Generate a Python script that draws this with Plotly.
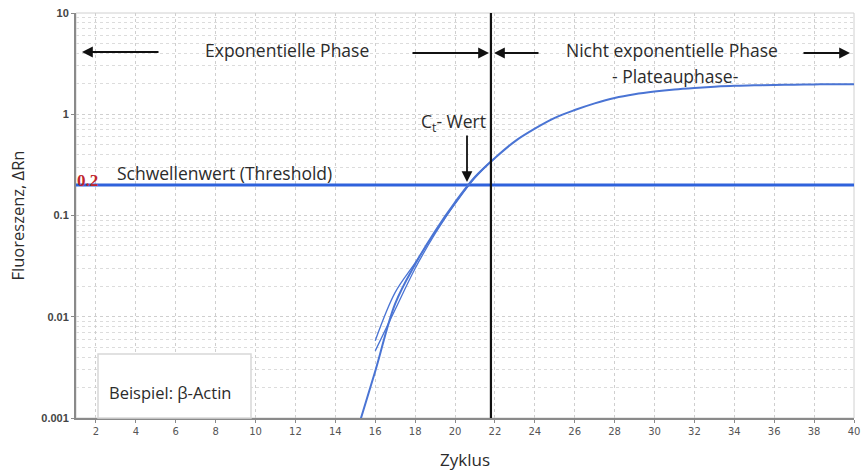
import plotly.graph_objects as go

# ---- data ----
cycles = list(range(15, 41))
main_curve = [0.00065, 0.0029, 0.0135, 0.033, 0.07, 0.135, 0.24, 0.37, 0.54, 0.72,
              0.92, 1.10, 1.28, 1.45, 1.58, 1.68, 1.76, 1.82, 1.87, 1.91,
              1.93, 1.95, 1.96, 1.97, 1.98, 1.98]
branch_cycles = [16, 17, 18, 19, 20, 21, 22]
branch_a = [0.0058, 0.0174, 0.034, 0.068, 0.13, 0.235, 0.37]
branch_b = [0.0046, 0.0118, 0.030, 0.066, 0.132, 0.24, 0.37]
threshold = 0.2
threshold_x = [1, 40]
phase_boundary = 21.8
y_ticks = [0.001, 0.01, 0.1, 1, 10]
y_ticklabels = ["0.001", "0.01", "0.1", "1", "10"]
x_ticks = list(range(2, 41, 2))

W, H = 861, 474
L, R, T, B = 76, 7, 13, 56
PW, PH = W - L - R, H - T - B

def px(x):
    return (x - L) / PW

def py(y):
    return 1 - (y - T) / PH

FONT = "Open Sans"
TXT = "#2b2b2b"
CURVE = "#4a74d4"

fig = go.Figure()
fig.add_trace(go.Scatter(x=threshold_x, y=[threshold, threshold], mode="lines",
                         line=dict(color="#2f62dc", width=3.2), hoverinfo="skip"))
fig.add_trace(go.Scatter(x=branch_cycles, y=branch_a, mode="lines",
                         line=dict(color=CURVE, width=1.3, shape="spline"), hoverinfo="skip"))
fig.add_trace(go.Scatter(x=branch_cycles, y=branch_b, mode="lines",
                         line=dict(color=CURVE, width=1.3, shape="spline"), hoverinfo="skip"))
fig.add_trace(go.Scatter(x=cycles, y=main_curve, mode="lines",
                         line=dict(color=CURVE, width=2, shape="spline"), hoverinfo="skip"))
fig.add_trace(go.Scatter(x=[phase_boundary, phase_boundary], y=[0.001, 10], mode="lines",
                         line=dict(color="#111111", width=2.2), hoverinfo="skip", cliponaxis=False))

annos = []
def arrow(x_head, y_head, x_tail, y_tail):
    annos.append(dict(x=px(x_head), y=py(y_head), xref="paper", yref="paper",
                      ax=x_tail - x_head, ay=y_tail - y_head, axref="pixel", ayref="pixel",
                      text="", showarrow=True, arrowhead=2, arrowsize=1.2, arrowwidth=1.8,
                      arrowcolor="#111111"))

def label(x, y, text, size=17.5, color=TXT, family=FONT, xanchor="center"):
    annos.append(dict(x=px(x), y=py(y), xref="paper", yref="paper", text=text,
                      showarrow=False, font=dict(family=family, size=size, color=color),
                      xanchor=xanchor, yanchor="middle"))

arrow(82, 52, 160, 52)
arrow(489, 53, 411, 53)
arrow(494, 53, 540, 53)
arrow(850, 53, 802, 53)
arrow(467, 182, 467, 134)
label(287, 50, "Exponentielle Phase")
label(672, 50, "Nicht exponentielle Phase")
label(675, 76, "- Plateauphase-")
label(453, 122, "C<sub>t</sub>- Wert")
label(224, 173, "Schwellenwert (Threshold)")
label(87, 180, "0.2", size=17, color="#c0262d", family="Liberation Serif")
label(170, 392, "Beispiel: β-Actin", size=16.5)
annos[-2]["font"]["weight"] = "bold"

shapes = [
    dict(type="rect", xref="paper", yref="paper", x0=px(98), x1=px(251), y0=py(418), y1=py(354),
         line=dict(color="#d8d8d8", width=1.5), fillcolor="white", layer="above"),
    dict(type="rect", xref="paper", yref="paper", x0=0, x1=1, y0=0, y1=1,
         line=dict(color="#d0d0d0", width=1), layer="below"),
]
fig.update_layout(shapes=shapes, annotations=annos)

fig.update_layout(
    width=W, height=H, margin=dict(l=L, r=R, t=T, b=B, autoexpand=False),
    paper_bgcolor="white", plot_bgcolor="white", showlegend=False,
    font=dict(family=FONT, color=TXT),
    xaxis=dict(range=[1, 40], tickvals=x_ticks, showgrid=True, gridcolor="#cfcfcf",
               griddash="dot", gridwidth=1, zeroline=False, showline=True,
               linecolor="#8a8a8a", linewidth=2, ticks="outside", ticklen=3,
               tickcolor="#8a8a8a", tickfont=dict(size=10, color="#555", family="DejaVu Sans"),
               ticklabeloverflow="allow", automargin=False,
               title=dict(text="Zyklus", font=dict(size=17, color=TXT), standoff=18)),
    yaxis=dict(type="log", range=[-3, 1], tickvals=y_ticks, ticktext=y_ticklabels,
               showgrid=True, gridcolor="#cfcfcf", griddash="dot", gridwidth=1,
               zeroline=False, showline=True, linecolor="#8a8a8a", linewidth=2,
               ticks="outside", ticklen=3, tickcolor="#8a8a8a", automargin=False,
               tickfont=dict(size=11, color="#444", family="Liberation Sans", weight="bold"),
               minor=dict(dtick="D1", showgrid=True, gridcolor="#dcdcdc", griddash="dot",
                          gridwidth=1),
               title=dict(text="Fluoreszenz, ΔRn", font=dict(size=16.5, color=TXT), standoff=12)),
)

fig.write_html("out.html")
